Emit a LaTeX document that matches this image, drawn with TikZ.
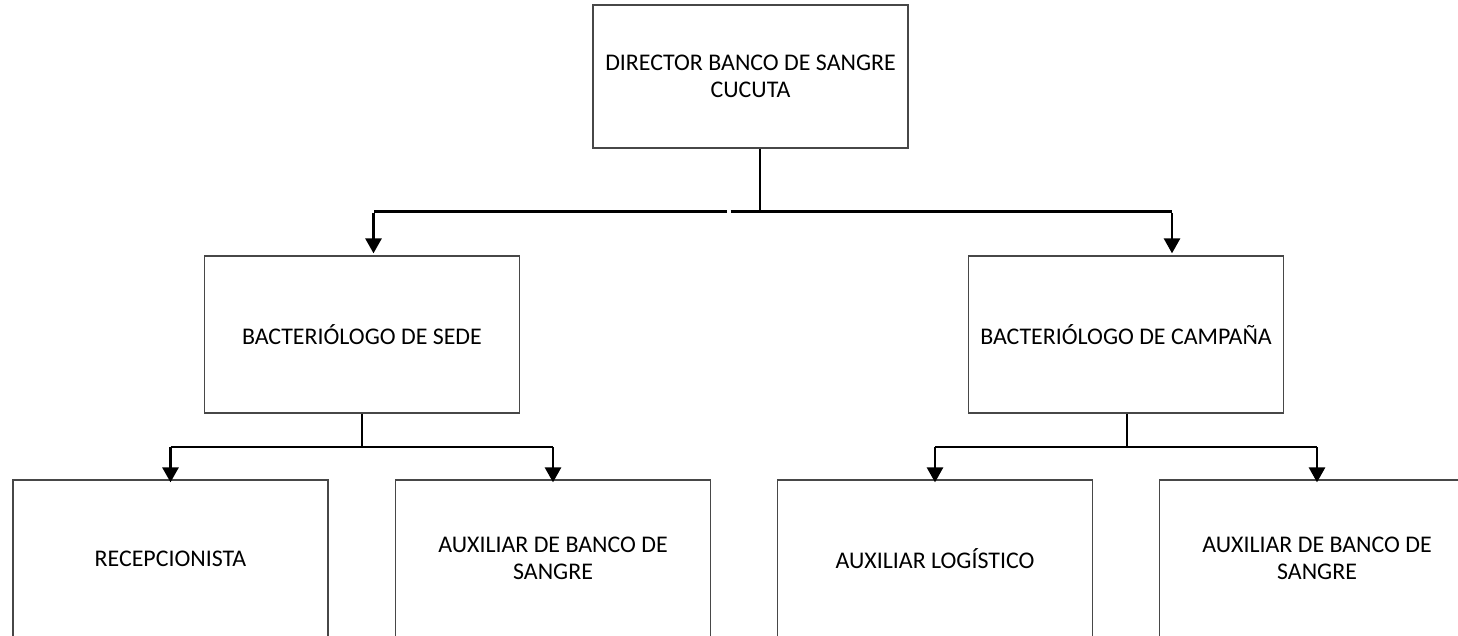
\documentclass[tikz,border=0pt]{standalone}
\usepackage{fontspec}
\setmainfont{Carlito}
\usetikzlibrary{arrows.meta}
\begin{document}
\begin{tikzpicture}[x=1pt,y=-1pt,
  box/.style={draw=black!72, line width=1.3pt, minimum width=315pt, align=center,
    font=\fontsize{23.9}{27.5}\selectfont, inner sep=0pt},
  topbox/.style={box, minimum height=143pt},
  midbox/.style={box, minimum height=157pt},
  botbox/.style={box, minimum height=157pt},
  thinline/.style={line width=1.5pt},
  arr/.style={line width=2.8pt, -{Triangle[width=16pt,length=15pt]}}
]
\useasboundingbox (0,0) rectangle (1458,635);
\clip (0,0) rectangle (1458,635);

\node[topbox] (dir) at (750.5,76.5) {DIRECTOR BANCO DE SANGRE\\CUCUTA};
\node[midbox] (sede) at (362,334.5) {BACTERIÓLOGO DE SEDE};
\node[midbox] (camp) at (1126,334.5) {BACTERIÓLOGO DE CAMPAÑA};
\node[botbox] (rec) at (170.5,558.5) {RECEPCIONISTA};
\node[botbox] (aux1) at (553,558.5) {AUXILIAR DE BANCO DE\\SANGRE};
\node[botbox] (log) at (935,558.5) {AUXILIAR LOGÍSTICO};
\node[botbox] (aux2) at (1317,558.5) {AUXILIAR DE BANCO DE\\SANGRE};

% top level
\coordinate (j) at (760,211.5);
\coordinate (gl) at (727,211.5);
\coordinate (gr) at (730.5,211.5);
\coordinate (al) at (373.5,211.5);
\coordinate (ar) at (1172,211.5);
\draw[line width=2.8pt] (dir.south -| j) -- (j);
\draw[line width=2.8pt] (gr) -- (ar);
\draw[line width=2.8pt] (gl) -- (al);
\draw[arr, shorten >=2pt] ([yshift=-1.4pt]al) -- (sede.north -| al);
\draw[arr, shorten >=2pt] ([yshift=-1.4pt]ar) -- (camp.north -| ar);

% second level left
\coordinate (jl) at (362,447);
\draw[thinline] (sede.south) -- (jl);
\draw[thinline] (rec.north |- jl) -- (aux1.north |- jl);
\draw[arr, shorten >=-3pt] (rec.north |- jl) -- (rec.north);
\draw[arr, shorten >=-3pt] (aux1.north |- jl) -- (aux1.north);

% second level right
\coordinate (jr) at (1127,447);
\draw[thinline] (camp.south -| jr) -- (jr);
\draw[thinline] (log.north |- jr) -- (aux2.north |- jr);
\draw[arr, shorten >=-3pt] (log.north |- jr) -- (log.north);
\draw[arr, shorten >=-3pt] (aux2.north |- jr) -- (aux2.north);
\end{tikzpicture}
\end{document}
